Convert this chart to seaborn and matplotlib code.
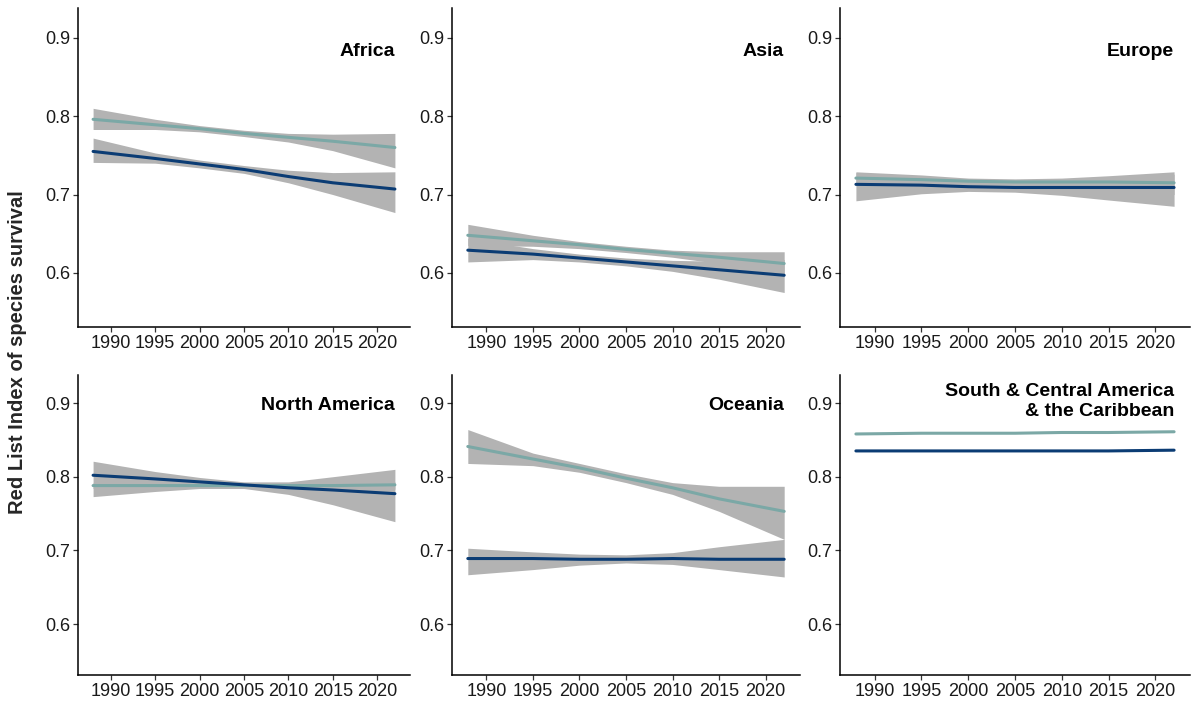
import numpy as np
import pandas as pd
import matplotlib
matplotlib.use("Agg")
import matplotlib.pyplot as plt
import seaborn as sns

years = [1988, 1995, 2000, 2005, 2010, 2015, 2022]

regions = ["Africa", "Asia", "Europe", "North America", "Oceania",
           "South & Central America\n& the Caribbean"]

# light (teal) series: fit, lower, upper
teal_fit = {
    "Africa": [0.796, 0.789, 0.784, 0.778, 0.773, 0.768, 0.760],
    "Asia": [0.648, 0.641, 0.636, 0.630, 0.625, 0.620, 0.612],
    "Europe": [0.721, 0.719, 0.717, 0.716, 0.716, 0.716, 0.715],
    "North America": [0.788, 0.788, 0.788, 0.788, 0.788, 0.788, 0.789],
    "Oceania": [0.841, 0.824, 0.812, 0.798, 0.785, 0.770, 0.753],
    "SCA": [0.858, 0.859, 0.859, 0.859, 0.860, 0.860, 0.861],
}
teal_lo = {
    "Africa": [0.783, 0.783, 0.780, 0.774, 0.767, 0.756, 0.734],
    "Asia": [0.635, 0.634, 0.631, 0.626, 0.620, 0.612, 0.598],
    "Europe": [0.712, 0.713, 0.713, 0.712, 0.710, 0.706, 0.700],
    "North America": [0.784, 0.785, 0.786, 0.786, 0.786, 0.785, 0.783],
    "Oceania": [0.818, 0.815, 0.806, 0.792, 0.776, 0.753, 0.715],
    "SCA": [0.858, 0.859, 0.859, 0.859, 0.860, 0.860, 0.861],
}
teal_hi = {
    "Africa": [0.810, 0.796, 0.788, 0.782, 0.778, 0.777, 0.778],
    "Asia": [0.662, 0.648, 0.640, 0.634, 0.629, 0.627, 0.627],
    "Europe": [0.729, 0.725, 0.721, 0.720, 0.721, 0.724, 0.729],
    "North America": [0.792, 0.791, 0.790, 0.790, 0.790, 0.791, 0.793],
    "Oceania": [0.864, 0.832, 0.818, 0.804, 0.792, 0.787, 0.787],
    "SCA": [0.858, 0.859, 0.859, 0.859, 0.860, 0.860, 0.861],
}

# dark (navy) series: fit, lower, upper
navy_fit = {
    "Africa": [0.755, 0.746, 0.739, 0.732, 0.723, 0.715, 0.707],
    "Asia": [0.629, 0.624, 0.619, 0.614, 0.609, 0.604, 0.597],
    "Europe": [0.713, 0.712, 0.710, 0.709, 0.709, 0.709, 0.709],
    "North America": [0.802, 0.797, 0.793, 0.789, 0.785, 0.782, 0.777],
    "Oceania": [0.689, 0.689, 0.688, 0.688, 0.689, 0.688, 0.688],
    "SCA": [0.835, 0.835, 0.835, 0.835, 0.835, 0.835, 0.836],
}
navy_lo = {
    "Africa": [0.741, 0.740, 0.734, 0.727, 0.715, 0.700, 0.677],
    "Asia": [0.614, 0.617, 0.614, 0.609, 0.602, 0.592, 0.575],
    "Europe": [0.692, 0.701, 0.704, 0.703, 0.699, 0.693, 0.685],
    "North America": [0.773, 0.780, 0.784, 0.784, 0.776, 0.762, 0.739],
    "Oceania": [0.667, 0.674, 0.680, 0.683, 0.681, 0.674, 0.664],
    "SCA": [0.835, 0.835, 0.835, 0.835, 0.835, 0.835, 0.836],
}
navy_hi = {
    "Africa": [0.772, 0.753, 0.744, 0.737, 0.731, 0.728, 0.729],
    "Asia": [0.644, 0.631, 0.624, 0.619, 0.616, 0.615, 0.617],
    "Europe": [0.728, 0.722, 0.718, 0.716, 0.717, 0.720, 0.726],
    "North America": [0.821, 0.807, 0.799, 0.793, 0.793, 0.800, 0.810],
    "Oceania": [0.703, 0.698, 0.695, 0.694, 0.697, 0.705, 0.715],
    "SCA": [0.835, 0.835, 0.835, 0.835, 0.835, 0.835, 0.836],
}

keys = ["Africa", "Asia", "Europe", "North America", "Oceania", "SCA"]
TEAL = "#7BA8A6"
NAVY = "#0B3C74"
BAND = "#B3B3B3"

sns.set_theme(style="ticks")
plt.rcParams["font.family"] = ["Liberation Sans", "DejaVu Sans"]

fig = plt.figure(figsize=(11.92, 7.04), dpi=100)
W, H = 1192, 704
cols = [(78, 410), (452, 800), (840, 1190)]
rows = [(8, 327), (375, 675)]

for i, (key, title) in enumerate(zip(keys, regions)):
    r, c = divmod(i, 3)
    x0, x1 = cols[c]
    y0, y1 = rows[r]
    ax = fig.add_axes([x0 / W, 1 - y1 / H, (x1 - x0) / W, (y1 - y0) / H])

    df = pd.concat([
        pd.DataFrame({"year": years, "rli": teal_fit[key], "lo": teal_lo[key],
                      "hi": teal_hi[key], "group": "light"}),
        pd.DataFrame({"year": years, "rli": navy_fit[key], "lo": navy_lo[key],
                      "hi": navy_hi[key], "group": "dark"}),
    ])
    for g in ["light", "dark"]:
        d = df[df.group == g]
        ax.fill_between(d["year"], d["lo"], d["hi"], color=BAND, lw=0, zorder=1)
    sns.lineplot(data=df, x="year", y="rli", hue="group",
                 palette={"light": TEAL, "dark": NAVY}, hue_order=["light", "dark"],
                 linewidth=2.2, legend=False, ax=ax, zorder=3)

    ax.set_xlim(1986.3, 2023.7)
    ax.set_ylim(0.531, 0.938)
    ax.set_xticks([1990, 1995, 2000, 2005, 2010, 2015, 2020])
    ax.set_yticks([0.6, 0.7, 0.8, 0.9])
    ax.set_yticklabels(["0.6", "0.7", "0.8", "0.9"])
    ax.set_xlabel("")
    ax.set_ylabel("")
    sns.despine(ax=ax)
    for s in ["left", "bottom"]:
        ax.spines[s].set_linewidth(1.1)
        ax.spines[s].set_color("black")
    ax.tick_params(axis="both", length=3.5, width=0.9, color="#333333",
                   labelsize=13, labelcolor="#1a1a1a", pad=2)

    ty = 0.882 if r == 0 else 0.897
    if key == "SCA":
        ty = 0.902
    ax.text(2022.0, ty, title, ha="right", va="center", fontsize=14,
            fontweight="bold", color="black", linespacing=1.25)

fig.text(18 / W, 0.5, "Red List Index of species survival", rotation=90,
         ha="center", va="center", fontsize=14.5, fontweight="bold")

fig.savefig("out.png", dpi=100)
